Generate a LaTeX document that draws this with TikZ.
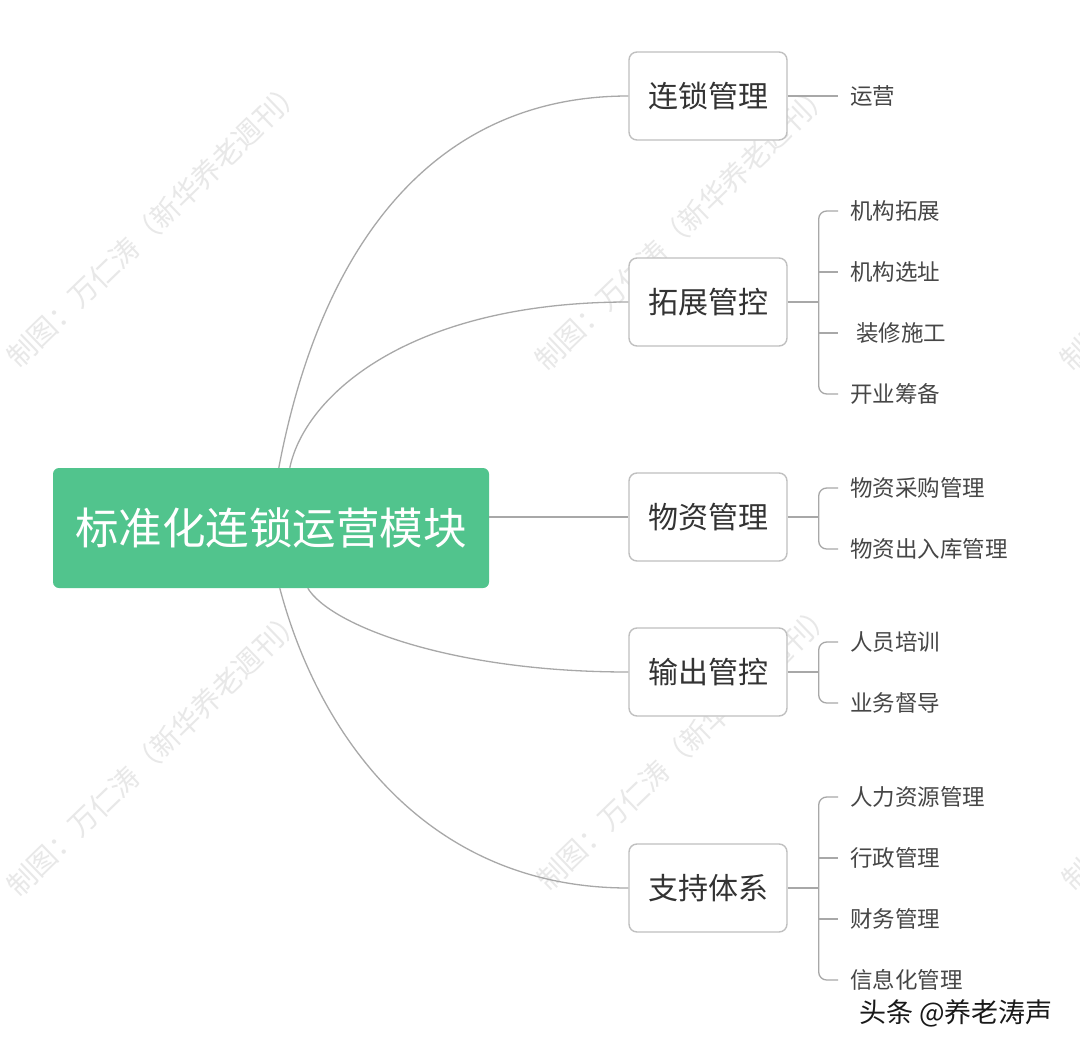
\documentclass[tikz,border=0pt]{standalone}
\usepackage{fontspec}
\setmainfont{Noto Sans CJK SC}
\definecolor{rootgreen}{RGB}{81,196,141}
\definecolor{linegray}{RGB}{168,168,168}
\definecolor{boxgray}{RGB}{192,192,192}
\definecolor{txtdark}{RGB}{51,51,51}
\definecolor{txtchild}{RGB}{70,70,70}
\definecolor{wmgray}{RGB}{232,232,232}
\begin{document}
\begin{tikzpicture}[x=1pt,y=-1pt,
  rootbox/.style={fill=rootgreen, rounded corners=6pt, minimum width=436pt, minimum height=120pt, text=white, font=\fontsize{43.5}{50}\selectfont, inner sep=0pt},
  branchbox/.style={draw=boxgray, line width=1.4pt, fill=white, rounded corners=8pt, minimum width=158pt, minimum height=88pt, text=txtdark, font=\fontsize{30}{36}\selectfont, inner sep=0pt},
  leaf/.style={anchor=west, inner xsep=12pt, inner ysep=0pt, text=txtchild, font=\fontsize{22.5}{27}\selectfont},
  conn/.style={draw=linegray, line width=1.3pt},
  wm/.style={text=wmgray, font=\fontsize{28.5}{32}\selectfont, rotate=44, inner sep=0pt}
]
\fill[white] (0,0) rectangle (1080,1055);
\useasboundingbox (0,0) rectangle (1080,1055);

% watermarks
\node[wm] (wm1) at (155,223) {制图：万仁涛（新华养老週刊）};
\node[wm] (wm2) at (683,226) {制图：万仁涛（新华养老週刊）};
\node[wm] (wm3) at (1208,226) {制图：万仁涛（新华养老週刊）};
\node[wm] (wm4) at (155,752) {制图：万仁涛（新华养老週刊）};
\node[wm] (wm5) at (685,746) {制图：万仁涛（新华养老週刊）};
\node[wm] (wm6) at (1210,746) {制图：万仁涛（新华养老週刊）};

% root and branches
\node[rootbox] (root) at (271,528) {标准化连锁运营模块};
\node[branchbox] (b1) at (708,96) {连锁管理};
\node[branchbox] (b2) at (708,302) {拓展管控};
\node[branchbox] (b3) at (708,517) {物资管理};
\node[branchbox] (b4) at (708,672) {输出管控};
\node[branchbox] (b5) at (708,888) {支持体系};

\coordinate (r1) at ([xshift=226pt]root.north west);
\coordinate (r2) at ([xshift=237pt]root.north west);
\coordinate (r4) at ([xshift=255pt]root.south west);
\coordinate (r5) at ([xshift=227pt]root.south west);

\draw[conn] (r1) .. controls (320,250) and (430,96) .. (b1.west);
\draw[conn] (r2) .. controls (305,395) and (410,302) .. (b2.west);
\draw[conn] (root.east |- b3.west) -- (b3.west);
\draw[conn] (r4) .. controls (330,625) and (450,672) .. (b4.west);
\draw[conn] (r5) .. controls (320,740) and (430,888) .. (b5.west);

% leaves
\node[leaf] (l11) at (838,96) {运营};

\node[leaf] (l21) at (838,211) {机构拓展};
\node[leaf] (l22) at (838,272) {机构选址};
\node[leaf] (l23) at (838,333) {\hspace*{6pt}装修施工};
\node[leaf] (l24) at (838,394) {开业筹备};

\node[leaf] (l31) at (838,488) {物资采购管理};
\node[leaf] (l32) at (838,549) {物资出入库管理};

\node[leaf] (l41) at (838,642) {人员培训};
\node[leaf] (l42) at (838,703) {业务督导};

\node[leaf] (l51) at (838,797) {人力资源管理};
\node[leaf] (l52) at (838,858) {行政管理};
\node[leaf] (l53) at (838,919) {财务管理};
\node[leaf] (l54) at (838,980) {信息化管理};

% leaf connectors
\draw[conn] (b1.east) -- (l11.west);

\coordinate (s2) at ([xshift=31pt]b2.east);
\draw[conn] (b2.east) -- (s2);
\draw[conn, rounded corners=8pt] (l21.west) -- (l21.west -| s2) -- (l24.west -| s2) -- (l24.west);
\draw[conn] (l22.west -| s2) -- (l22.west);
\draw[conn] (l23.west -| s2) -- (l23.west);

\coordinate (s3) at ([xshift=31pt]b3.east);
\draw[conn] (b3.east) -- (s3);
\draw[conn, rounded corners=8pt] (l31.west) -- (l31.west -| s3) -- (l32.west -| s3) -- (l32.west);

\coordinate (s4) at ([xshift=31pt]b4.east);
\draw[conn] (b4.east) -- (s4);
\draw[conn, rounded corners=8pt] (l41.west) -- (l41.west -| s4) -- (l42.west -| s4) -- (l42.west);

\coordinate (s5) at ([xshift=31pt]b5.east);
\draw[conn] (b5.east) -- (s5);
\draw[conn, rounded corners=8pt] (l51.west) -- (l51.west -| s5) -- (l54.west -| s5) -- (l54.west);
\draw[conn] (l52.west -| s5) -- (l52.west);
\draw[conn] (l53.west -| s5) -- (l53.west);

% platform credit
\node[inner sep=0pt, text=black!90, font=\fontsize{27}{30}\selectfont] (credit) at (956,1013) {头条 @养老涛声};
\end{tikzpicture}
\end{document}
